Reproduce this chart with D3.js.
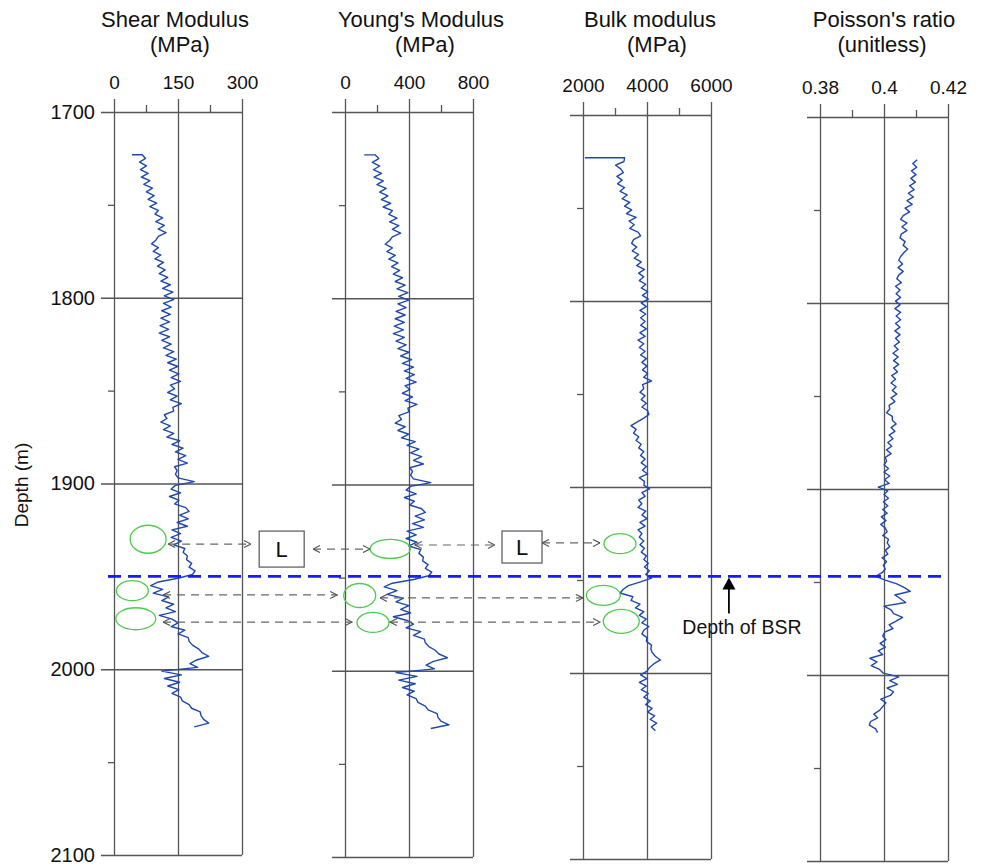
<!DOCTYPE html>
<meta charset="utf-8">

<head>
  <style>
    body {
      margin: 0;
      background: #fff;
    }

    svg text {
      font-family: "Liberation Sans", Arial, sans-serif;
      fill: #111;
    }

    .grid line {
      stroke: #555;
      stroke-width: 1.3px;
    }

    .log {
      fill: none;
      stroke: #1f48ad;
      stroke-width: 1.4px;
      stroke-linejoin: round;
    }
  </style>
</head>

<body>
  <script src="https://d3js.org/d3.v7.min.js"></script>

  <div id="chart"></div>

  <script>

    var width = 983,
      height = 866;

    // depth samples (m), the first one doubled for the flat start of the logs
    var topDepth = 1723;
    var depths = [topDepth].concat(d3.range(topDepth, 2032, 2));

    var shear = [42,
      66, 74, 60, 76, 62, 80, 64, 84, 70, 90,
      76, 94, 80, 100, 84, 104, 96, 114, 98, 118,
      104, 122, 104, 98, 88, 104, 92, 110, 96, 116,
      102, 120, 106, 126, 110, 132, 114, 138, 118, 140,
      116, 134, 112, 132, 110, 130, 108, 128, 106, 130,
      112, 134, 116, 140, 122, 146, 126, 150, 130, 152,
      134, 156, 132, 142, 126, 148, 132, 158, 138, 140,
      118, 124, 110, 132, 116, 140, 124, 154, 136, 162,
      144, 168, 150, 172, 142, 148, 144, 150, 188, 144,
      134, 156, 130, 152, 142, 168, 176, 154, 174, 148,
      172, 136, 156, 134, 158, 140, 166, 162, 172, 170,
      182, 176, 190, 184, 150, 104, 86, 114, 92, 128,
      112, 140, 122, 144, 106, 136, 150, 134, 166, 150,
      174, 176, 184, 198, 206, 222, 194, 178, 196, 112,
      158, 118, 154, 126, 152, 136, 156, 160, 176, 182,
      202, 204, 210, 222, 188];

    var young = [120,
      188, 211, 171, 217, 177, 228, 182, 239, 200, 257,
      217, 268, 228, 285, 239, 296, 274, 325, 279, 336,
      296, 348, 296, 279, 251, 296, 262, 314, 274, 331,
      291, 342, 302, 359, 314, 376, 325, 393, 336, 399,
      331, 382, 319, 376, 314, 371, 308, 365, 302, 371,
      319, 382, 331, 399, 348, 416, 359, 428, 371, 433,
      382, 445, 376, 405, 359, 422, 376, 450, 393, 399,
      336, 353, 314, 376, 331, 399, 353, 439, 388, 462,
      410, 479, 428, 490, 405, 422, 410, 428, 536, 410,
      382, 445, 371, 433, 405, 479, 502, 439, 496, 422,
      490, 388, 445, 382, 450, 399, 473, 462, 490, 485,
      519, 502, 542, 524, 428, 296, 245, 325, 262, 365,
      319, 399, 348, 410, 302, 388, 428, 382, 473, 428,
      496, 502, 524, 564, 587, 640, 553, 507, 559, 319,
      450, 336, 439, 359, 433, 388, 445, 456, 502, 519,
      576, 581, 599, 650, 536];

    var bulk = [2060,
      3300, 3280, 3020, 3180, 3260, 3060, 3220, 3080, 3300, 3160,
      3380, 3220, 3460, 3300, 3520, 3360, 3660, 3440, 3600, 3460,
      3720, 3800, 3580, 3520, 3680, 3540, 3740, 3600, 3820, 3680,
      3920, 3740, 3900, 3760, 3960, 3820, 4020, 3860, 4040, 3820,
      3980, 3780, 3960, 3800, 3940, 3800, 3980, 3780, 3940, 3720,
      3900, 3760, 3940, 3800, 3980, 3840, 4000, 3860, 4020, 3900,
      4140, 3860, 3900, 3780, 3940, 3820, 3980, 3840, 4020, 4060,
      3900, 3700, 3500, 3660, 3580, 3740, 3660, 3820, 3740, 3900,
      3800, 3940, 3820, 3980, 3860, 4020, 3760, 3920, 3900, 4080,
      3840, 3940, 3740, 3840, 3720, 3960, 3840, 4000, 3780, 3940,
      3720, 3840, 3760, 3900, 3780, 3920, 3820, 3980, 3900, 4040,
      3920, 4080, 3960, 4140, 3800, 3420, 3260, 3160, 3560, 3500,
      3780, 3640, 3900, 3760, 3980, 3840, 4060, 3900, 3840, 4000,
      3980, 4140, 4120, 4160, 4260, 4420, 4220, 4080, 4000, 3800,
      4000, 3760, 3980, 3820, 4040, 3900, 4100, 3960, 4160, 4020,
      4240, 4100, 4300, 4140, 4260];

    var poisson = [0.4104,
      0.4104, 0.4090, 0.4102, 0.4086, 0.4100, 0.4084, 0.4098, 0.4080, 0.4094, 0.4076,
      0.4092, 0.4072, 0.4088, 0.4066, 0.4080, 0.4060, 0.4052, 0.4072, 0.4056, 0.4072,
      0.4054, 0.4050, 0.4066, 0.4060, 0.4074, 0.4062, 0.4052, 0.4046, 0.4058, 0.4044,
      0.4060, 0.4046, 0.4040, 0.4054, 0.4036, 0.4050, 0.4038, 0.4052, 0.4036, 0.4050,
      0.4034, 0.4052, 0.4038, 0.4052, 0.4036, 0.4050, 0.4034, 0.4050, 0.4036, 0.4048,
      0.4032, 0.4044, 0.4028, 0.4044, 0.4030, 0.4046, 0.4030, 0.4042, 0.4024, 0.4036,
      0.4022, 0.4038, 0.4026, 0.4040, 0.4022, 0.4034, 0.4016, 0.4018, 0.4008, 0.4026,
      0.4026, 0.4038, 0.4022, 0.4034, 0.4016, 0.4028, 0.4012, 0.4024, 0.4008, 0.4022,
      0.4004, 0.4008, 0.4000, 0.4014, 0.4000, 0.4018, 0.4002, 0.4016, 0.3982, 0.4012,
      0.4000, 0.4014, 0.3998, 0.4012, 0.3996, 0.4010, 0.3992, 0.4006, 0.3990, 0.4004,
      0.4010, 0.3996, 0.4014, 0.4010, 0.4018, 0.4004, 0.4012, 0.3994, 0.4008, 0.3998,
      0.4004, 0.3994, 0.3974, 0.4004, 0.4040, 0.4064, 0.4082, 0.4034, 0.4052, 0.4068,
      0.4000, 0.4022, 0.4030, 0.4058, 0.4038, 0.4016, 0.4028, 0.4002, 0.3996, 0.4006,
      0.3988, 0.4004, 0.3982, 0.3996, 0.3956, 0.3978, 0.3960, 0.3986, 0.3998, 0.4046,
      0.4018, 0.4042, 0.4010, 0.4030, 0.4020, 0.3990, 0.4006, 0.3996, 0.3986, 0.3968,
      0.3980, 0.3958, 0.3954, 0.3974, 0.3980];

    var titles = ["Shear Modulus", "Young's Modulus", "Bulk modulus", "Poisson's ratio"];
    var units = ["(MPa)", "(MPa)", "(MPa)", "(unitless)"];
    var domains = [[0, 300], [0, 800], [2000, 6000], [0.38, 0.42]];
    var tickValues = [[0, 150, 300], [0, 400, 800], [2000, 4000, 6000], [0.38, 0.40, 0.42]];
    var tickLabels = [["0", "150", "300"], ["0", "400", "800"], ["2000", "4000", "6000"], ["0.38", "0.4", "0.42"]];
    var minorTicks = [[75, 225], [200, 600], [3000, 5000], [0.39, 0.41]];
    var series = [shear, young, bulk, poisson];

    var depthTicks = [1700, 1800, 1900, 2000, 2100];
    var depthMinor = [1750, 1850, 1950, 2050];
    var depthDomain = [1700, 2100];
    var bsrDepth = 1950;

    // annotations: [panel, value, depth, rx, ry]
    var ellipses = [
      [0, 80, 1930, 18, 14], [0, 43, 1957.7, 16, 10], [0, 51, 1972.8, 20, 11],
      [1, 283, 1935.2, 20, 9.5], [1, 92, 1960.3, 16, 12], [1, 175, 1974.8, 16, 10],
      [2, 3156, 1932.4, 16, 10], [2, 2634, 1960.2, 17, 10], [2, 3197, 1974.2, 18, 12]
    ];
    // dashed double arrows: [panel, from value, to value, depth]
    var links = [
      [0, 127, 321, 1932.6], [1, -200, 156, 1935.3], [1, 437, 937, 1933.1], [2, 719, 2531, 1932],
      [0, 115, 523, 1960], [1, 219, 1487, 1961.6],
      [0, 115, 558, 1974.6], [1, 281, 1594, 1974.6]
    ];
    // "L" boxes: [panel, value, depth, w, h]
    var boxes = [[0, 393, 1935.3, 45, 36], [2, 94, 1934.2, 40, 32]];

    // panel frames in pixels
    var frames = [
      { x0: 114, y0: 112, y1: 855, t1: 175, t2: 180 },
      { x0: 345, y0: 112, y1: 857, t1: 421, t2: 425 },
      { x0: 583, y0: 115, y1: 859, t1: 650, t2: 657 },
      { x0: 820, y0: 117, y1: 861, t1: 884, t2: 882 }
    ];
    var panelW = 128, stub = 13;

    var svg = d3.select('#chart')
      .append('svg')
      .attr('width', width)
      .attr('height', height);

    var defs = svg.append('defs');
    defs.append('marker')
      .attr('id', 'chev')
      .attr('viewBox', '0 0 8 8')
      .attr('refX', 7.5).attr('refY', 4)
      .attr('markerWidth', 8).attr('markerHeight', 8)
      .attr('markerUnits', 'userSpaceOnUse')
      .attr('orient', 'auto-start-reverse')
      .append('path')
      .attr('d', 'M0.5,0.5 L7.5,4 L0.5,7.5')
      .attr('fill', 'none')
      .attr('stroke', '#555')
      .attr('stroke-width', 1.1)
      .attr('stroke-dasharray', 'none');

    var xs = [], ys = [];

    frames.forEach(function (f, i) {
      var x = d3.scaleLinear().domain(domains[i]).range([f.x0, f.x0 + panelW]);
      var y = d3.scaleLinear().domain(depthDomain).range([f.y0, f.y1]);
      xs.push(x); ys.push(y);

      var g = svg.append('g');

      // titles
      g.append('text')
        .attr('x', f.t1).attr('y', 27)
        .attr('text-anchor', 'middle')
        .style('font-size', '22px')
        .text(titles[i]);
      g.append('text')
        .attr('x', f.t2).attr('y', 52)
        .attr('text-anchor', 'middle')
        .style('font-size', '22px')
        .text(units[i]);

      // vertical grid + top labels
      var labels = tickLabels[i];
      g.append('g')
        .attr('class', 'grid')
        .attr('transform', 'translate(0,' + (f.y0 - stub) + ')')
        .call(d3.axisTop(x)
          .tickValues(tickValues[i])
          .tickSize(-(f.y1 - f.y0 + stub))
          .tickPadding(10)
          .tickFormat(function (d, k) { return labels[k]; }))
        .call(function (a) {
          a.select('.domain').remove();
          a.selectAll('text').style('font-size', '19px')
            .style('font-family', '"Liberation Sans", Arial, sans-serif').attr('fill', '#111');
        });

      g.append('g')
        .attr('class', 'grid')
        .attr('transform', 'translate(0,' + f.y0 + ')')
        .call(d3.axisTop(x).tickValues(minorTicks[i]).tickSize(7).tickFormat(''))
        .call(function (a) { a.select('.domain').remove(); });

      // horizontal grid + depth labels
      g.append('g')
        .attr('class', 'grid')
        .attr('transform', 'translate(' + (f.x0 - stub) + ',0)')
        .call(d3.axisLeft(y)
          .tickValues(depthTicks)
          .tickSize(-(panelW + stub))
          .tickPadding(6)
          .tickFormat(i === 0 ? d3.format('d') : ''))
        .call(function (a) {
          a.select('.domain').remove();
          a.selectAll('text').style('font-size', '20px')
            .style('font-family', '"Liberation Sans", Arial, sans-serif').attr('fill', '#111');
        });

      g.append('g')
        .attr('class', 'grid')
        .attr('transform', 'translate(' + f.x0 + ',0)')
        .call(d3.axisLeft(y).tickValues(depthMinor).tickSize(6).tickFormat(''))
        .call(function (a) { a.select('.domain').remove(); });

      // log curve
      var line = d3.line()
        .x(function (d) { return x(d[1]); })
        .y(function (d) { return y(d[0]); });

      g.append('path')
        .datum(d3.zip(depths, series[i]))
        .attr('class', 'log')
        .attr('d', line);
    });

    // depth axis title
    svg.append('text')
      .attr('transform', 'translate(28,485) rotate(-90)')
      .attr('text-anchor', 'middle')
      .style('font-size', '19px')
      .text('Depth (m)');

    var yRef = ys[0];

    // BSR line
    svg.append('line')
      .attr('x1', frames[0].x0 - 6)
      .attr('x2', frames[3].x0 + panelW - 2)
      .attr('y1', yRef(bsrDepth))
      .attr('y2', yRef(bsrDepth))
      .attr('stroke', '#1a1aff')
      .attr('stroke-width', 2.6)
      .attr('stroke-dasharray', '13,7');

    // green ellipses
    svg.selectAll('ellipse.zone')
      .data(ellipses)
      .enter()
      .append('ellipse')
      .attr('class', 'zone')
      .attr('cx', function (d) { return xs[d[0]](d[1]); })
      .attr('cy', function (d) { return yRef(d[2]); })
      .attr('rx', function (d) { return d[3]; })
      .attr('ry', function (d) { return d[4]; })
      .attr('fill', 'none')
      .attr('stroke', '#4ccc4c')
      .attr('stroke-width', 1.3);

    // dashed links
    svg.selectAll('line.link')
      .data(links)
      .enter()
      .append('line')
      .attr('class', 'link')
      .attr('x1', function (d) { return xs[d[0]](d[1]); })
      .attr('x2', function (d) { return xs[d[0]](d[2]); })
      .attr('y1', function (d) { return yRef(d[3]); })
      .attr('y2', function (d) { return yRef(d[3]); })
      .attr('stroke', '#666')
      .attr('stroke-width', 1.2)
      .attr('stroke-dasharray', '8,6')
      .attr('marker-start', 'url(#chev)')
      .attr('marker-end', 'url(#chev)');

    // L boxes
    var bx = svg.selectAll('g.lbox')
      .data(boxes)
      .enter()
      .append('g')
      .attr('class', 'lbox')
      .attr('transform', function (d) {
        return 'translate(' + xs[d[0]](d[1]) + ',' + yRef(d[2]) + ')';
      });
    bx.append('rect')
      .attr('x', function (d) { return -d[3] / 2; })
      .attr('y', function (d) { return -d[4] / 2; })
      .attr('width', function (d) { return d[3]; })
      .attr('height', function (d) { return d[4]; })
      .attr('fill', '#fff')
      .attr('stroke', '#555')
      .attr('stroke-width', 1.2);
    bx.append('text')
      .attr('text-anchor', 'middle')
      .attr('dy', '0.36em')
      .style('font-size', '22px')
      .text('L');

    // "Depth of BSR" pointer
    var ax = xs[2](6560), ay = yRef(bsrDepth);
    svg.append('line')
      .attr('x1', ax).attr('x2', ax)
      .attr('y1', ay + 10).attr('y2', ay + 37)
      .attr('stroke', '#000')
      .attr('stroke-width', 1.8);
    svg.append('path')
      .attr('d', 'M' + ax + ',' + (ay + 1) + ' l6.5,12 l-13,0 z')
      .attr('fill', '#000');
    svg.append('text')
      .attr('x', ax + 13).attr('y', ay + 58)
      .attr('text-anchor', 'middle')
      .style('font-size', '19.5px')
      .text('Depth of BSR');

  </script>
</body>
